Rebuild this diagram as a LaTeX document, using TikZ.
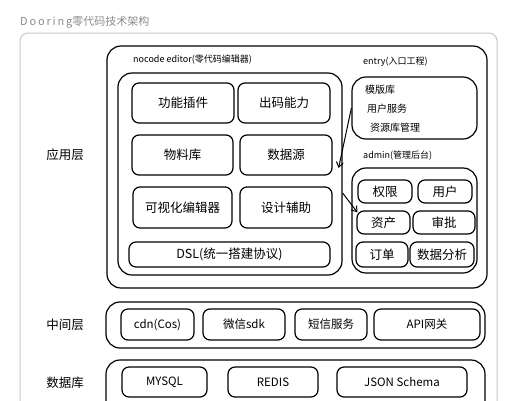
\documentclass[tikz,border=0pt]{standalone}
\usepackage{fontspec}
\setmainfont{Noto Sans CJK SC}
\usetikzlibrary{arrows.meta}
\tikzset{
  box/.style={draw, line width=1.2pt, rounded corners=7pt, inner sep=0pt},
  bigbox/.style={draw, line width=1.2pt, rounded corners=14pt, inner sep=0pt},
  cell/.style={box, font=\fontsize{12.5}{14}\selectfont},
  scell/.style={box, font=\fontsize{11.5}{13}\selectfont},
  lbl/.style={font=\fontsize{9}{11}\selectfont, anchor=west, inner sep=0pt},
  item/.style={font=\fontsize{10}{12}\selectfont, anchor=west, inner sep=0pt},
  layer/.style={font=\fontsize{12.5}{14}\selectfont, inner sep=0pt},
  arr/.style={line width=1pt, -{Straight Barb[length=5pt,width=7pt]}}
}
\begin{document}
\begin{tikzpicture}[x=1pt,y=-1pt]
\clip (0,0) rectangle (522,400);
\fill[white] (0,0) rectangle (522,400);
% outer frame
\node[draw=black!22, line width=1pt, rounded corners=8pt, minimum width=477pt, minimum height=400pt, inner sep=0pt] (frame) at (258.5,233) {};
\node[anchor=west, inner sep=0pt, text=black!45, font=\fontsize{11}{13}\selectfont] (title) at (20,22) {D\,o\,o\,r\,i\,n\,g零代码技术架构};
% layer labels
\node[layer] (lapp) at (65,155) {应用层};
\node[layer] (lmid) at (65,325) {中间层};
\node[layer] (ldb) at (65,383) {数据库};
% application layer
\node[bigbox, minimum width=380pt, minimum height=242pt] (app) at (297,167) {};
\node[lbl] (edlbl) at (133,60) {nocode editor(零代码编辑器)};
\node[bigbox, minimum width=224pt, minimum height=202pt] (editor) at (230,174) {};
\node[cell, minimum width=102pt, minimum height=40pt] (c1) at (183,103) {功能插件};
\node[cell, minimum width=92pt, minimum height=40pt] (c2) at (284,103) {出码能力};
\node[cell, minimum width=101pt, minimum height=40pt] (c3) at (182.5,155) {物料库};
\node[cell, minimum width=92pt, minimum height=40pt] (c4) at (286,155) {数据源};
\node[cell, minimum width=99pt, minimum height=41pt] (c5) at (182.5,207.5) {可视化编辑器};
\node[cell, minimum width=92pt, minimum height=41pt] (c6) at (286,207.5) {设计辅助};
\node[cell, minimum width=201pt, minimum height=25pt] (dsl) at (229.5,254.5) {DSL(统一搭建协议)};
% entry
\node[lbl] (enlbl) at (363,62) {entry(入口工程)};
\node[bigbox, minimum width=125pt, minimum height=62pt] (entry) at (414.5,108) {};
\node[item] (e1) at (365,90) {模版库};
\node[item] (e2) at (367,109) {用户服务};
\node[item] (e3) at (370,128) {资源库管理};
% admin
\node[lbl] (adlbl) at (363,156) {admin(管理后台)};
\node[bigbox, minimum width=125pt, minimum height=105pt] (admin) at (414.5,220.5) {};
\node[cell, minimum width=54pt, minimum height=23pt] (a1) at (385,191.5) {权限};
\node[cell, minimum width=54pt, minimum height=23pt] (a2) at (445,191.5) {用户};
\node[cell, minimum width=53pt, minimum height=23pt] (a3) at (383.5,222.5) {资产};
\node[cell, minimum width=62pt, minimum height=23pt] (a4) at (444,222.5) {审批};
\node[cell, minimum width=52pt, minimum height=25pt] (a5) at (382,254.5) {订单};
\node[cell, minimum width=64pt, minimum height=25pt] (a6) at (442,254.5) {数据分析};
% arrows
\draw[arr] (entry.west) -- ([xshift=-4pt,yshift=6pt]editor.east);
\draw[arr] ([yshift=-19pt]editor.east) -- ([xshift=1pt,yshift=-2pt]a3.north west);
% middle layer
\node[bigbox, minimum width=379pt, minimum height=46pt] (mid) at (295.5,325) {};
\node[scell, minimum width=73pt, minimum height=31pt] (m1) at (157.5,324.5) {cdn(Cos)};
\node[scell, minimum width=82pt, minimum height=31pt] (m2) at (244,324.5) {微信sdk};
\node[scell, minimum width=72pt, minimum height=31pt] (m3) at (331,324.5) {短信服务};
\node[scell, minimum width=106pt, minimum height=31pt] (m4) at (427,324.5) {API网关};
% database layer
\node[bigbox, minimum width=379pt, minimum height=60pt] (db) at (295.5,390) {};
\node[scell, minimum width=85pt, minimum height=30pt] (d1) at (164.5,382) {MYSQL};
\node[scell, minimum width=90pt, minimum height=30pt] (d2) at (273,382) {REDIS};
\node[scell, minimum width=130pt, minimum height=30pt] (d3) at (402,382) {JSON Schema};
\end{tikzpicture}
\end{document}
